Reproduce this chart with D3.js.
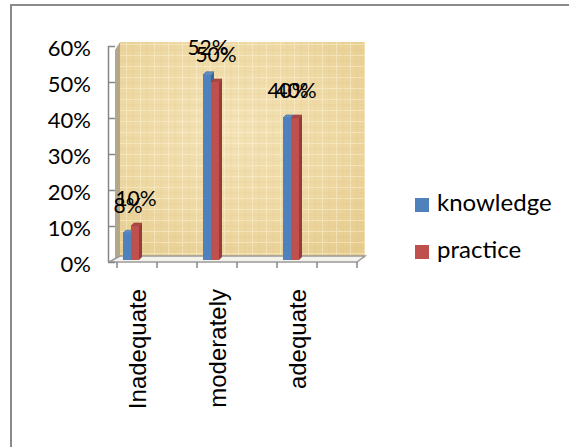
<!DOCTYPE html>
<html>
<head>
<meta charset="utf-8">
<script src="https://cdn.jsdelivr.net/npm/d3@7"></script>
<style>
  body { margin: 0; background: #fff; }
  svg { display: block; }
</style>
</head>
<body>
<svg id="chart" width="569" height="447"></svg>
<script>
// chart data
const categories = ['Inadequate', 'c2', 'moderately', 'c4', 'adequate', 'c6']
const categoryLabels = ['Inadequate', '', 'moderately', '', 'adequate', '']
const seriesNames = ['knowledge', 'practice']
const knowledge = [0.08, null, 0.52, null, 0.40, null]
const practice = [0.10, null, 0.50, null, 0.40, null]
const yTicks = [0, 0.1, 0.2, 0.3, 0.4, 0.5, 0.6]

const colors = { knowledge: '#4F81BD', practice: '#C0504D' }
const sideColors = { knowledge: '#3B6593', practice: '#943D3A' }
const topColors = { knowledge: '#5F8FC8', practice: '#B04643' }

const svg = d3.select('#chart')
const labelFont = 'Lato, "Open Sans", sans-serif'

// outer frame
svg.append('rect')
    .attr('x', 11).attr('y', 5)
    .attr('width', 600).attr('height', 500)
    .attr('fill', '#fff')
    .attr('stroke', '#8a8a8a')
    .attr('stroke-width', 2)

const x = d3.scaleBand().domain(categories).range([117, 357]).padding(0)
const y = d3.scaleLinear().domain([0, 0.6]).range([262, 46])
const xSub = d3.scaleBand().domain(seriesNames).range([6, 22]).padding(0)

const depth = { dx: 5, dy: -4 }
const barDepth = { dx: 3, dy: -3 }

// texture for the back wall
const defs = svg.append('defs')
const grad = defs.append('radialGradient').attr('id', 'wallGrad')
    .attr('cx', '45%').attr('cy', '40%').attr('r', '75%')
grad.append('stop').attr('offset', '0%').attr('stop-color', '#F4E3B6')
grad.append('stop').attr('offset', '60%').attr('stop-color', '#EED8A2')
grad.append('stop').attr('offset', '100%').attr('stop-color', '#E6CC8E')

const pat = defs.append('pattern').attr('id', 'wallTex')
    .attr('patternUnits', 'userSpaceOnUse')
    .attr('width', 14).attr('height', 11)
pat.append('path')
    .attr('d', 'M0,0.5H14M0.5,0V11')
    .attr('stroke', '#FFF6DC').attr('stroke-width', 1).attr('opacity', 0.45)
pat.append('path')
    .attr('d', 'M7,0V11M0,6H14')
    .attr('stroke', '#D9BF84').attr('stroke-width', 0.6).attr('opacity', 0.35)

const x0 = x.range()[0]
const x1 = x.range()[1]
const yTop = y(0.6)
const yBase = y(0)

// left side wall (seen edge on)
svg.append('path')
    .attr('d', `M${x0 - 2},${yTop + 4}L${x0 - 2 + depth.dx},${yTop + depth.dy}` +
        `L${x0 - 2 + depth.dx},${yBase + depth.dy}L${x0 - 2},${yBase}Z`)
    .attr('fill', '#B3A78A')

// back wall
svg.append('rect')
    .attr('x', x0 + 3).attr('y', yTop + depth.dy)
    .attr('width', x1 - x0 + 5).attr('height', yBase - yTop)
    .attr('fill', 'url(#wallGrad)')
svg.append('rect')
    .attr('x', x0 + 3).attr('y', yTop + depth.dy)
    .attr('width', x1 - x0 + 5).attr('height', yBase - yTop)
    .attr('fill', 'url(#wallTex)')

// floor slab
svg.append('path')
    .attr('d', `M${x0 - 8},${yBase}L${x1},${yBase}L${x1 + 8},${yBase - 6}L${x0 + 3},${yBase - 6}Z`)
    .attr('fill', '#F4F2EC')
    .attr('stroke', '#9a9a9a')
    .attr('stroke-width', 1.5)

// bars
const rows = []
categories.forEach((c, i) => {
    if (knowledge[i] != null) rows.push({ cat: c, key: 'knowledge', value: knowledge[i] })
    if (practice[i] != null) rows.push({ cat: c, key: 'practice', value: practice[i] })
})
rows.sort((a, b) => (a.key === 'practice') - (b.key === 'practice'))

const bars = svg.append('g').selectAll('g').data(rows).join('g')
bars.append('path')
    .attr('d', (d) => {
        const bx = x(d.cat) + xSub(d.key) + xSub.bandwidth()
        const top = y(d.value)
        return `M${bx},${top}L${bx + barDepth.dx},${top + barDepth.dy}` +
            `L${bx + barDepth.dx},${y(0) - 2 + barDepth.dy}L${bx},${y(0) - 2}Z`
    })
    .attr('fill', (d) => sideColors[d.key])
bars.append('path')
    .attr('d', (d) => {
        const bx = x(d.cat) + xSub(d.key)
        const w = xSub.bandwidth()
        const top = y(d.value)
        return `M${bx},${top}L${bx + barDepth.dx},${top + barDepth.dy}` +
            `L${bx + w + barDepth.dx},${top + barDepth.dy}L${bx + w},${top}Z`
    })
    .attr('fill', (d) => topColors[d.key])
    .attr('stroke', (d) => sideColors[d.key])
    .attr('stroke-width', 0.6)
bars.append('rect')
    .attr('x', (d) => x(d.cat) + xSub(d.key))
    .attr('y', (d) => y(d.value))
    .attr('width', xSub.bandwidth())
    .attr('height', (d) => y(0) - 2 - y(d.value))
    .attr('fill', (d) => colors[d.key])

// data labels
svg.append('g').selectAll('text').data(rows).join('text')
    .attr('x', (d) => x(d.cat) + xSub(d.key) + xSub.bandwidth() / 2 + 1)
    .attr('y', (d) => y(d.value) - 20)
    .attr('text-anchor', 'middle')
    .style('font-family', labelFont)
    .style('font-size', '21px')
    .attr('fill', '#000')
    .text((d) => d3.format('.0%')(d.value))

// y axis
const yAxis = d3.axisLeft(y).tickValues(yTicks).tickFormat(d3.format('.0%'))
    .tickSize(7).tickPadding(17)
const yg = svg.append('g').attr('transform', `translate(${x0 - 2},0)`).call(yAxis)
yg.select('.domain').remove()
yg.selectAll('.tick line').attr('stroke', '#868686').attr('stroke-width', 1.5)
yg.selectAll('.tick text')
    .attr('dy', '0.45em')
    .style('font-family', labelFont)
    .style('font-size', '22px')
    .attr('fill', '#000')
svg.append('line')
    .attr('x1', x0 - 8.5).attr('x2', x0 - 8.5)
    .attr('y1', yTop).attr('y2', yBase)
    .attr('stroke', '#868686').attr('stroke-width', 1.5)

// x axis ticks at category boundaries
const bounds = categories.map((c) => x(c)).concat([x1])
svg.append('g').selectAll('line').data(bounds).join('line')
    .attr('x1', (d) => d).attr('x2', (d) => d)
    .attr('y1', yBase).attr('y2', yBase + 6)
    .attr('stroke', '#868686').attr('stroke-width', 1.5)

// category labels
const xAxis = d3.axisBottom(x).tickSize(0).tickFormat((d, i) => categoryLabels[i])
const xg = svg.append('g').attr('transform', `translate(0,${yBase})`).call(xAxis)
xg.select('.domain').remove()
xg.selectAll('.tick text')
    .attr('transform', 'translate(0,27) rotate(-90)')
    .attr('x', 0).attr('y', 0)
    .attr('dy', '0.36em')
    .attr('text-anchor', 'end')
    .style('font-family', '"Liberation Sans", Arial, sans-serif')
    .style('font-size', '24px')
    .attr('fill', '#000')

// legend
const legend = svg.append('g').selectAll('g').data(seriesNames).join('g')
    .attr('transform', (d, i) => `translate(415,${198 + i * 47})`)
legend.append('rect')
    .attr('width', 14).attr('height', 14)
    .attr('fill', (d) => colors[d])
legend.append('text')
    .attr('x', 22).attr('y', 13)
    .style('font-family', labelFont)
    .style('font-size', '24px')
    .attr('fill', '#000')
    .text((d) => d)
</script>
</body>
</html>
